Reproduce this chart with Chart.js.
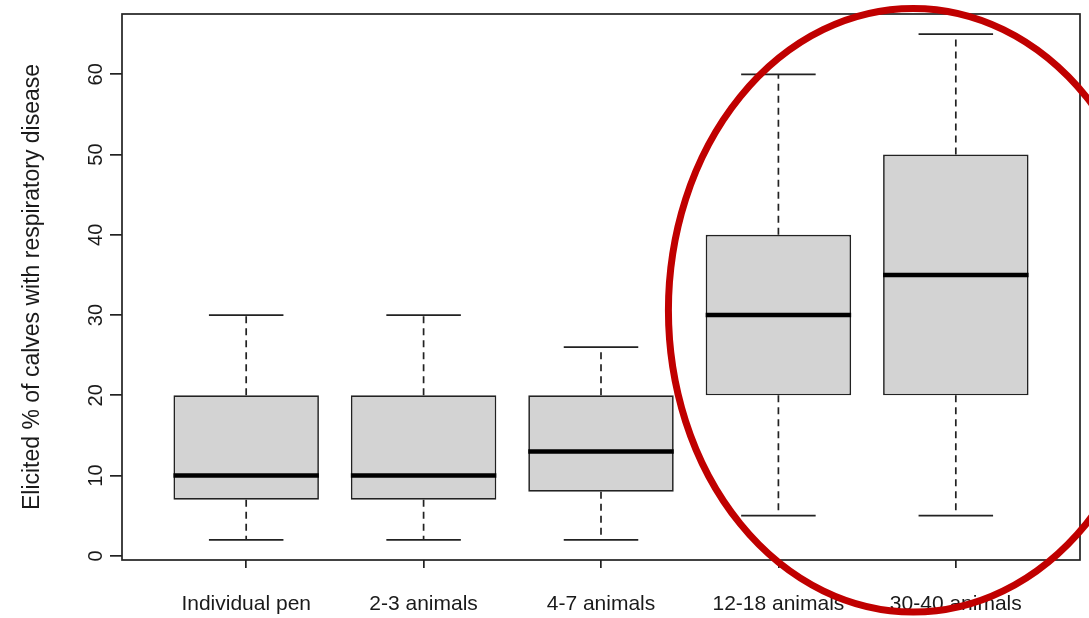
<!DOCTYPE html>
<html>
<head>
<meta charset="utf-8">
<script src="https://cdn.jsdelivr.net/npm/chart.js@4/dist/chart.umd.min.js"></script>
<style>
  html, body { margin: 0; padding: 0; background: #fff; }
  canvas { display: block; }
</style>
</head>
<body>
<canvas id="chart" width="1089" height="618"></canvas>
<script>
// group labels and box statistics
const groups = ["Individual pen", "2-3 animals", "4-7 animals", "12-18 animals", "30-40 animals"];
const lowWhisker = [2, 2, 2, 5, 5];
const lowerQuartile = [7, 7, 8, 20, 20];
const medians = [10, 10, 13, 30, 35];
const upperQuartile = [20, 20, 20, 40, 50];
const highWhisker = [30, 30, 26, 60, 65];
const yTicks = [0, 10, 20, 30, 40, 50, 60];

// red highlight ellipse, in data units
const highlight = { x: 4.76, y: 30.6, rx: 1.38, ry: 37.6 };

const positions = groups.map((_, i) => i + 1);
const FONT = "'Liberation Sans', Arial, sans-serif";
const BOX_W = 0.82;
const CAP_W = 0.42;

//draws the plot frame, whiskers and medians
const boxParts = {
  id: "boxParts",
  beforeDatasetsDraw(chart) {
    const { ctx, scales: { x, y } } = chart;
    ctx.save();
    ctx.strokeStyle = "#222";
    ctx.lineWidth = 1.7;
    positions.forEach((p, i) => {
      const cx = x.getPixelForValue(p);
      const capHalf = (x.getPixelForValue(p + CAP_W / 2) - x.getPixelForValue(p - CAP_W / 2)) / 2;
      //dashed whiskers
      ctx.setLineDash([7, 5]);
      ctx.beginPath();
      ctx.moveTo(cx, y.getPixelForValue(upperQuartile[i]));
      ctx.lineTo(cx, y.getPixelForValue(highWhisker[i]));
      ctx.moveTo(cx, y.getPixelForValue(lowerQuartile[i]));
      ctx.lineTo(cx, y.getPixelForValue(lowWhisker[i]));
      ctx.stroke();
      //caps
      ctx.setLineDash([]);
      ctx.beginPath();
      [highWhisker[i], lowWhisker[i]].forEach((v) => {
        const py = y.getPixelForValue(v);
        ctx.moveTo(cx - capHalf, py);
        ctx.lineTo(cx + capHalf, py);
      });
      ctx.stroke();
    });
    ctx.restore();
  },
  afterDatasetsDraw(chart) {
    const { ctx, chartArea, scales: { x, y } } = chart;
    ctx.save();
    //medians
    ctx.strokeStyle = "#000";
    ctx.lineWidth = 4.5;
    positions.forEach((p, i) => {
      const py = y.getPixelForValue(medians[i]);
      ctx.beginPath();
      ctx.moveTo(x.getPixelForValue(p - BOX_W / 2), py);
      ctx.lineTo(x.getPixelForValue(p + BOX_W / 2), py);
      ctx.stroke();
    });
    //frame
    ctx.strokeStyle = "#222";
    ctx.lineWidth = 1.7;
    ctx.strokeRect(chartArea.left, chartArea.top, chartArea.right - chartArea.left, chartArea.bottom - chartArea.top);
    ctx.restore();
  },
  afterDraw(chart) {
    const { ctx, scales: { x, y } } = chart;
    const cx = x.getPixelForValue(highlight.x);
    const cy = y.getPixelForValue(highlight.y);
    const rx = x.getPixelForValue(highlight.x + highlight.rx) - cx;
    const ry = cy - y.getPixelForValue(highlight.y + highlight.ry);
    ctx.save();
    ctx.strokeStyle = "#C00000";
    ctx.lineWidth = 7;
    ctx.beginPath();
    ctx.ellipse(cx, cy, rx, ry, 0, 0, Math.PI * 2);
    ctx.stroke();
    ctx.restore();
  },
};

new Chart(document.getElementById("chart"), {
  type: "bar",
  data: {
    datasets: [
      {
        data: positions.map((p, i) => ({ x: p, y: [lowerQuartile[i], upperQuartile[i]] })),
        backgroundColor: "#D3D3D3",
        borderColor: "#222",
        borderWidth: 1.7,
        borderSkipped: false,
        categoryPercentage: 1,
        barPercentage: BOX_W,
      },
    ],
  },
  options: {
    responsive: false,
    animation: false,
    devicePixelRatio: 1,
    layout: { padding: { top: 14, right: 9, left: 0, bottom: 0 } },
    plugins: { legend: { display: false }, tooltip: { enabled: false } },
    scales: {
      x: {
        type: "linear",
        min: 0.3,
        max: 5.7,
        offset: false,
        afterBuildTicks: (scale) => {
          scale.ticks = positions.map((v) => ({ value: v }));
        },
        afterFit: (scale) => {
          scale.height = 58;
        },
        border: { display: false },
        grid: { offset: false, drawOnChartArea: false, tickLength: 8, color: "#222", lineWidth: 1.7 },
        ticks: {
          color: "#1a1a1a",
          font: { family: FONT, size: 21 },
          padding: 24,
          maxRotation: 0,
          autoSkip: false,
          callback: (v) => groups[v - 1],
        },
      },
      y: {
        min: -0.52,
        max: 67.52,
        afterBuildTicks: (scale) => {
          scale.ticks = yTicks.map((v) => ({ value: v }));
        },
        afterFit: (scale) => {
          scale.width = 122;
        },
        border: { display: false },
        grid: { drawOnChartArea: false, tickLength: 12, color: "#222", lineWidth: 1.7 },
        ticks: {
          color: "#1a1a1a",
          font: { family: FONT, size: 20 },
          minRotation: 90,
          maxRotation: 90,
          crossAlign: "center",
          padding: 2,
        },
        title: {
          display: true,
          text: "Elicited % of calves with respiratory disease",
          color: "#1a1a1a",
          font: { family: FONT, size: 23 },
          padding: { top: 19, bottom: 0 },
        },
      },
    },
  },
  plugins: [boxParts],
});
</script>
</body>
</html>
